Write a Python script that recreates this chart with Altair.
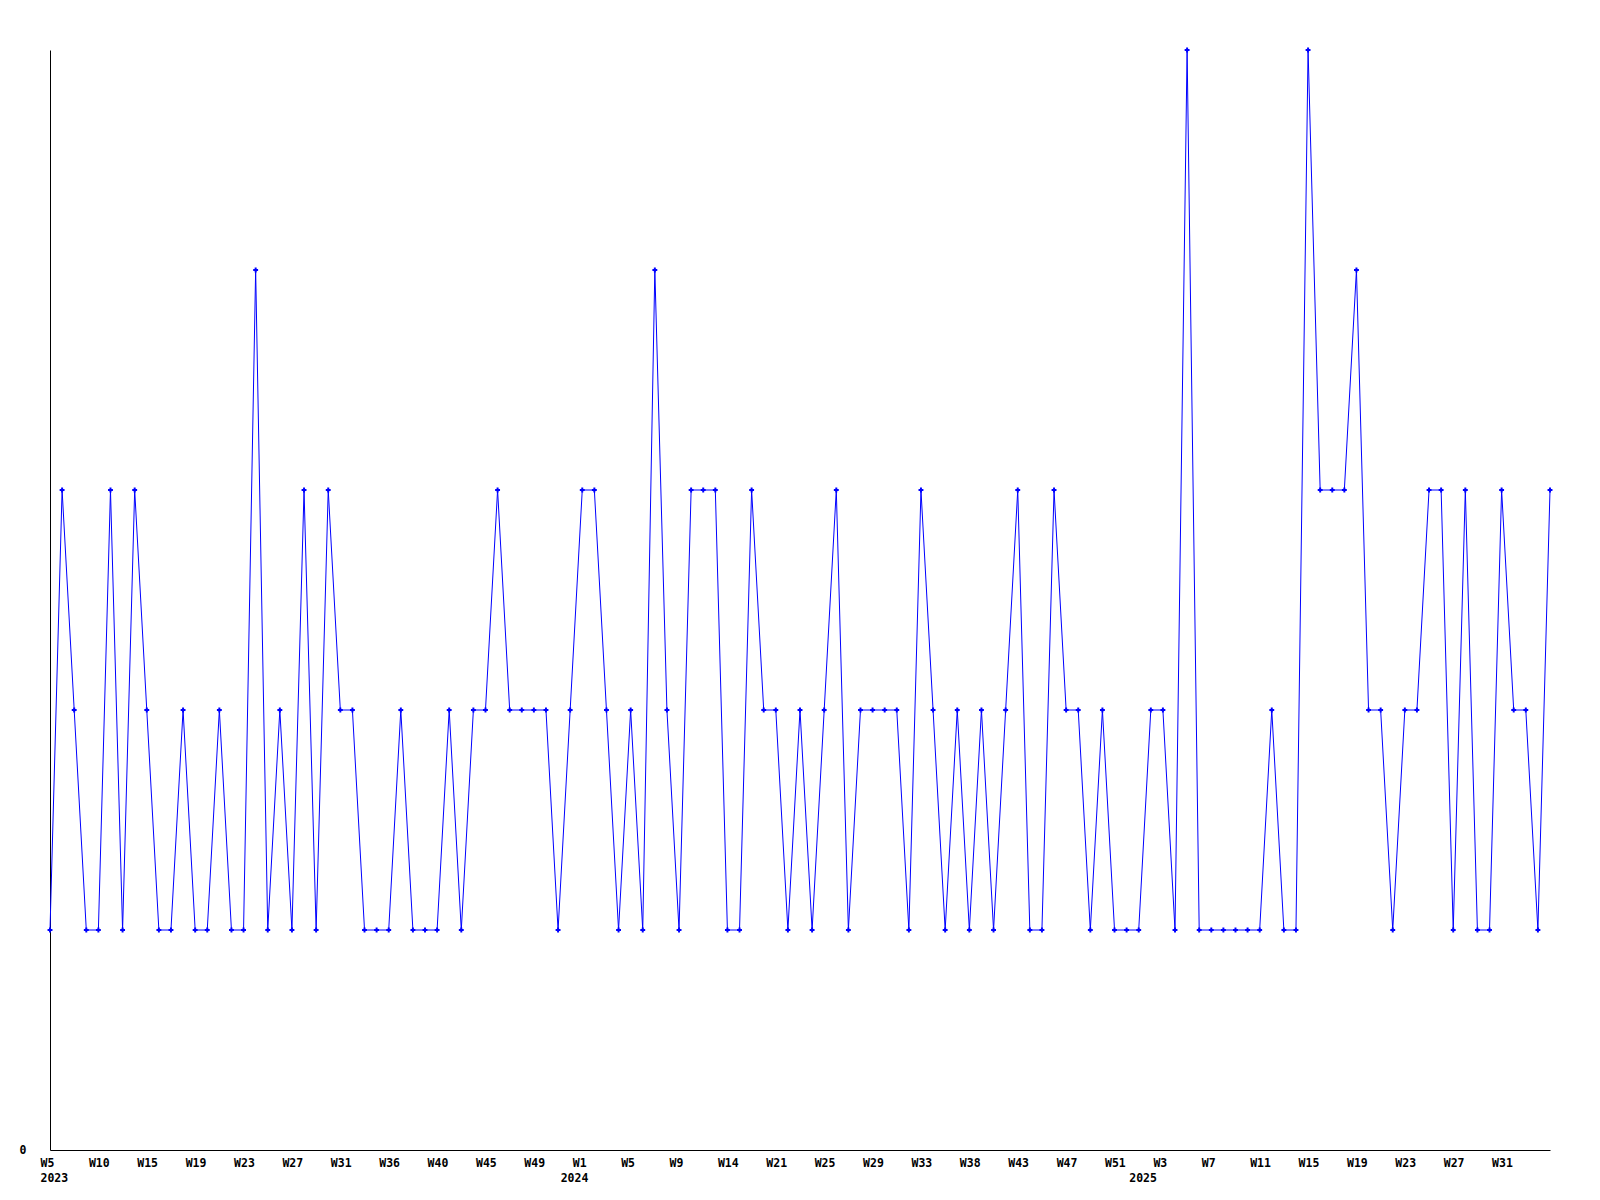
import altair as alt
import pandas as pd

# one value per sample (weekly samples)
values = [
    1, 3, 2, 1, 1, 3, 1, 3, 2, 1, 1, 2, 1, 1, 2, 1, 1, 4, 1, 2,
    1, 3, 1, 3, 2, 2, 1, 1, 1, 2, 1, 1, 1, 2, 1, 2, 2, 3, 2, 2,
    2, 2,
    1, 2, 3, 3, 2, 1, 2, 1, 4, 2, 1, 3, 3, 3, 1, 1, 3, 2, 2, 1,
    2, 1, 2, 3, 1, 2, 2, 2, 2, 1, 3, 2, 1, 2, 1, 2, 1, 2, 3, 1,
    1, 3,
    2, 2, 1, 2, 1, 1, 1, 2, 2, 1, 5, 1, 1, 1, 1, 1, 1, 2, 1, 1,
    5, 3, 3, 3, 4, 2, 2, 1, 2, 2, 3, 3, 1, 3, 1, 1, 3, 2, 2, 1,
    3,
]

# week labels shown on every 4th sample
week_labels = [
    "W5", "W10", "W15", "W19", "W23", "W27", "W31", "W36", "W40", "W45", "W49",
    "W1", "W5", "W9", "W14", "W21", "W25", "W29", "W33", "W38", "W43", "W47", "W51",
    "W3", "W7", "W11", "W15", "W19", "W23", "W27", "W31",
]
week_label_step = 4

# year labels, placed at the first sample of each year
year_labels = ["2023", "2024", "2025"]
year_starts = [0, 43, 90]

n = len(values)
df = pd.DataFrame({"i": list(range(n)), "v": values})

label_arr = [""] * n
for k, w in enumerate(week_labels):
    label_arr[k * week_label_step] = w
for yl, s in zip(year_labels, year_starts):
    label_arr[s] = [label_arr[s], yl]
tick_vals = sorted(set([k * week_label_step for k in range(len(week_labels))] + year_starts))


def js(v):
    if isinstance(v, list):
        return "[" + ",".join(js(x) for x in v) + "]"
    return "'" + v + "'"


label_expr = "[" + ",".join(js(x) for x in label_arr) + "][datum.value]"

FONT = "DejaVu Sans Mono"
BLUE = "#0000FF"

x_enc = alt.X(
    "i:Q",
    scale=alt.Scale(domain=[0, n - 1], nice=False, zero=False),
    axis=alt.Axis(
        values=tick_vals,
        labelExpr=label_expr,
        title=None,
        ticks=False,
        tickSize=0,
        grid=False,
        labelAlign="left",
        labelOffset=-10,
        labelBaseline="top",
        labelPadding=7,
        labelFlush=False,
        labelOverlap=False,
        labelFont=FONT,
        labelFontSize=11.5,
        labelFontWeight="bold",
        labelColor="black",
        labelLineHeight=15,
        domainColor="black",
        domainWidth=1,
    ),
)
y_enc = alt.Y(
    "v:Q",
    scale=alt.Scale(domain=[0, 5], nice=False, zero=True),
    axis=alt.Axis(
        values=[0],
        title=None,
        ticks=False,
        tickSize=0,
        grid=False,
        labelPadding=24,
        labelFont=FONT,
        labelFontSize=11.5,
        labelFontWeight="bold",
        labelColor="black",
        domainColor="black",
        domainWidth=1,
    ),
)

base = alt.Chart(df).encode(x=x_enc, y=y_enc)
line = base.mark_line(color=BLUE, strokeWidth=1)
pts = base.mark_point(shape="cross", filled=True, size=24, color=BLUE, opacity=1)

chart = (
    alt.layer(line, pts)
    .properties(
        width=1500,
        height=1100,
        autosize=alt.AutoSizeParams(type="none"),
        padding={"left": 42, "top": 42, "right": 40, "bottom": 40},
        background="white",
    )
    .configure_view(stroke=None)
)

chart.save("out.html", embed_options={"renderer": "svg", "actions": False})
